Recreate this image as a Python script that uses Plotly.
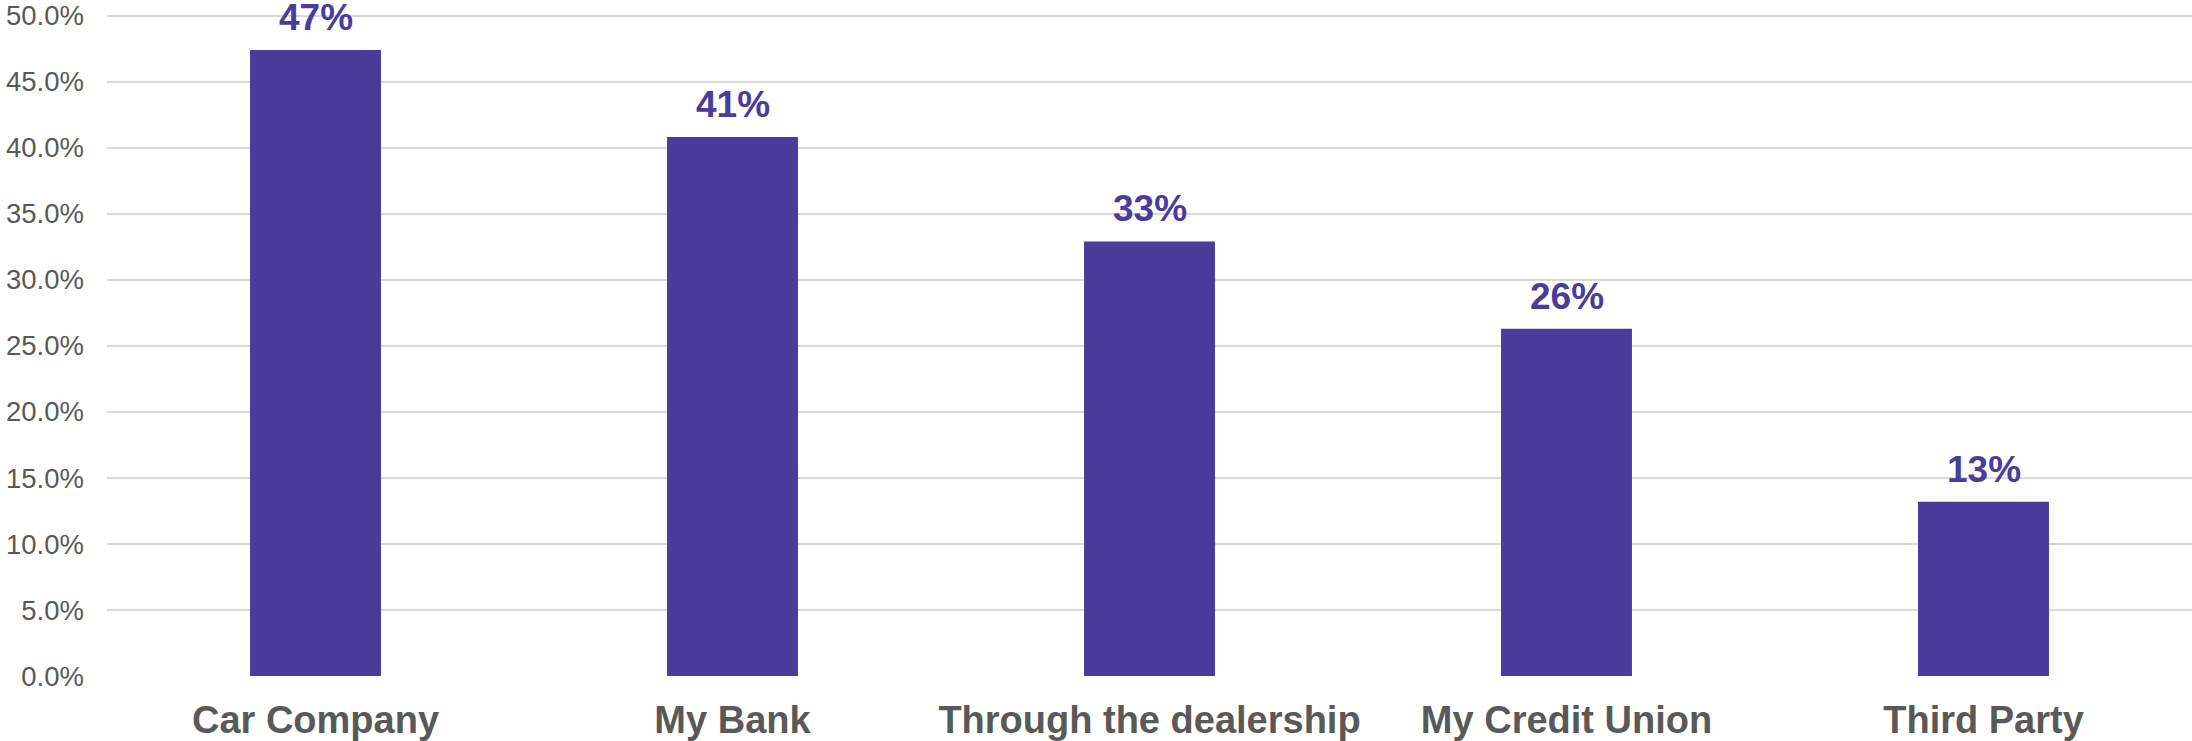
import plotly.graph_objects as go

# Where people get their auto financing (share of respondents)
categories = ["Car Company", "My Bank", "Through the dealership", "My Credit Union", "Third Party"]
shares = [0.474, 0.408, 0.329, 0.263, 0.132]

y_ticks = [round(i * 0.05, 2) for i in range(11)]

BAR_COLOR = "#4B3B9B"
TEXT_GRAY = "#595959"
GRID = "#D9D9D9"

fig = go.Figure()
fig.add_trace(go.Bar(
    x=categories,
    y=shares,
    marker=dict(color=BAR_COLOR, line=dict(width=0)),
    hoverinfo="skip",
))

# Value labels above each bar, formatted from the bar values
for cat, val in zip(categories, shares):
    fig.add_annotation(
        x=cat, y=val, text=f"<b>{val:.0%}</b>",
        showarrow=False, yanchor="bottom", yshift=10,
        font=dict(family="Liberation Sans, Arial, sans-serif", size=37, color=BAR_COLOR),
    )

fig.update_layout(
    width=2192, height=741,
    margin=dict(l=107, r=0, t=6, b=64, pad=0),
    paper_bgcolor="white", plot_bgcolor="white",
    bargap=0.686,
    showlegend=False,
    font=dict(family="Liberation Sans, Arial, sans-serif", color=TEXT_GRAY),
)

fig.update_yaxes(
    range=[0, 0.505],
    tickvals=y_ticks,
    tickformat=".1%",
    tickfont=dict(size=27.5, color=TEXT_GRAY),
    showgrid=True, gridcolor=GRID, gridwidth=2,
    zeroline=False,
    showline=False,
    ticklabelstandoff=22,
    ticklabeloverflow="allow",
)

fig.update_xaxes(
    tickfont=dict(size=38, color=TEXT_GRAY, weight="bold"),
    showline=False,
    showgrid=False,
    ticklabelstandoff=18,
    ticklabeloverflow="allow",
)

fig.write_html("out.html")
